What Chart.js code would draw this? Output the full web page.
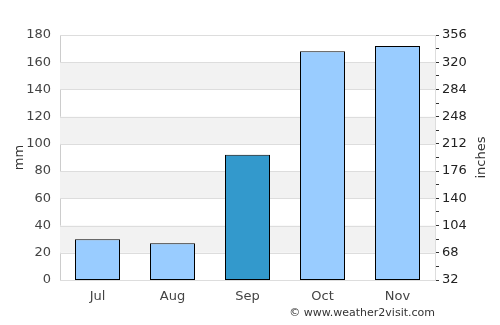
<!DOCTYPE html>
<html>
<head>
<meta charset="utf-8">
<script src="https://cdn.jsdelivr.net/npm/chart.js@4.4.0/dist/chart.umd.min.js"></script>
<style>
  html, body { margin: 0; padding: 0; background: #fff; }
  #wrap { position: relative; width: 500px; height: 325px; }
  #credit {
    position: absolute; right: 65px; top: 306px;
    font: 11px "DejaVu Sans", sans-serif; color: #333;
  }
</style>
</head>
<body>
<div id="wrap">
  <canvas id="rainChart" width="500" height="325"></canvas>
  <div id="credit">© www.weather2visit.com</div>
</div>
<script>
// Chart data
const months = ["Jul", "Aug", "Sep", "Oct", "Nov"];
const rainfallMm = [30, 27, 92, 168, 172];
const barColors = ["#99ccff", "#99ccff", "#3399cc", "#99ccff", "#99ccff"];
const mmTickLabels = ["0", "20", "40", "60", "80", "100", "120", "140", "160", "180"];
const inchTickLabels = ["32", "68", "104", "140", "176", "212", "248", "284", "320", "356"];

const font = { family: "'DejaVu Sans', sans-serif", size: 13 };

// Alternating grey bands behind the bars
const bandPlugin = {
  id: "bands",
  beforeDatasetsDraw(chart) {
    const { ctx, chartArea } = chart;
    const y = chart.scales.y;
    ctx.save();
    ctx.fillStyle = "#f2f2f2";
    for (let i = 1; i < mmTickLabels.length - 1; i += 2) {
      const top = y.getPixelForValue(Number(mmTickLabels[i + 1]));
      const bottom = y.getPixelForValue(Number(mmTickLabels[i]));
      ctx.fillRect(chartArea.left, top, chartArea.right - chartArea.left, bottom - top);
    }
    // redraw gridlines over the bands
    ctx.strokeStyle = "#dddddd";
    ctx.lineWidth = 1;
    mmTickLabels.forEach((v) => {
      const py = Math.round(y.getPixelForValue(Number(v))) + 0.5;
      ctx.beginPath();
      ctx.moveTo(chartArea.left, py);
      ctx.lineTo(chartArea.right, py);
      ctx.stroke();
    });
    ctx.restore();
  },
  // right axis title reads bottom-to-top
  afterDraw(chart) {
    const { ctx, chartArea } = chart;
    ctx.save();
    ctx.translate(chartArea.right + 47, (chartArea.top + chartArea.bottom) / 2);
    ctx.rotate(-Math.PI / 2);
    ctx.font = "13px 'DejaVu Sans', sans-serif";
    ctx.fillStyle = "#333";
    ctx.textAlign = "center";
    ctx.textBaseline = "middle";
    ctx.fillText("inches", 0, 0);
    ctx.restore();
  },
};

new Chart(document.getElementById("rainChart"), {
  type: "bar",
  data: {
    labels: months,
    datasets: [
      {
        data: rainfallMm,
        backgroundColor: barColors,
        borderColor: "#000",
        borderWidth: 1,
        borderSkipped: false,
        barPercentage: 0.6,
        categoryPercentage: 1,
        yAxisID: "y",
      },
    ],
  },
  options: {
    responsive: false,
    animation: false,
    layout: { padding: { top: 35, left: 0, right: 0, bottom: 0 } },
    plugins: { legend: { display: false }, tooltip: { enabled: false } },
    scales: {
      x: {
        grid: { display: false, drawTicks: false },
        border: { color: "#cccccc" },
        ticks: { font: font, color: "#444", padding: 9 },
        afterFit(scale) { scale.height = 45; },
      },
      y: {
        position: "left",
        min: 0,
        max: 180,
        grid: { display: false, drawTicks: false },
        border: { color: "#cccccc" },
        ticks: {
          stepSize: 20,
          font: font,
          color: "#444",
          padding: 9,
          callback: (v) => mmTickLabels[v / 20],
        },
        title: { display: true, text: "mm", font: font, color: "#333", padding: { top: 12, bottom: 0 } },
        afterFit(scale) { scale.width = 60; },
      },
      y2: {
        position: "right",
        min: 0,
        max: 180,
        grid: { drawOnChartArea: false, tickLength: 4, color: "#333" },
        border: { color: "#dddddd" },
        ticks: {
          stepSize: 10,
          autoSkip: false,
          font: font,
          color: "#222",
          padding: 3,
          callback: (v) => (v % 20 === 0 ? inchTickLabels[v / 20] : ""),
        },
        afterFit(scale) { scale.width = 65; },
      },
    },
  },
  plugins: [bandPlugin],
});
</script>
</body>
</html>
